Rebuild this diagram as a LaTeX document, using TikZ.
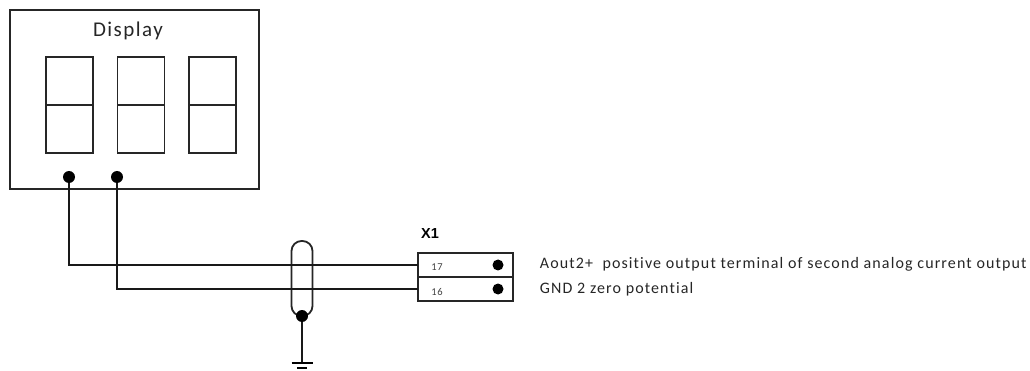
\documentclass[tikz,border=0pt]{standalone}
\usepackage{fontspec}
\setmainfont{Carlito}
\newfontfamily\labelfont[LetterSpace=7,RawFeature=-liga]{Carlito}
\newfontfamily\boldfont{Liberation Sans}
\usetikzlibrary{positioning}

\begin{document}
\begin{tikzpicture}[x=1pt, y=-1pt, node distance=24pt, on grid, line width=1.8pt]
      \tikzset{
        box/.style={draw=black!85, rectangle, inner sep=0pt, outer sep=0pt},
        digit/.style={box, minimum width=47pt, minimum height=48pt},
        terminal/.style={box, minimum width=95pt, minimum height=24pt},
        joint/.style={fill=black, circle, inner sep=0pt, outer sep=0pt, minimum size=11pt},
        wire/.style={line width=2.2pt, black!90},
        notetext/.style={font=\labelfont\fontsize{16}{18}\selectfont, anchor=west, inner sep=0pt, text=black!85},
        pinno/.style={font=\labelfont\fontsize{10.5}{12}\selectfont, inner sep=0pt, text=black!75}
      }
      \useasboundingbox (0,0) rectangle (1030,371);

      % Display
      \node[box, minimum width=249pt, minimum height=179pt] (display) at (134.5,99.5) {};
      \node[font=\labelfont\fontsize{21}{23}\selectfont, inner sep=0pt, text=black!85] (title) at (128,31) {Display};
      \node[digit]  (d1t) at (69.5,81) {};
      \node[digit]  (d1b) [below=48pt of d1t] {};
      \node[digit]  (d2t) [right=71.5pt of d1t] {};
      \node[digit]  (d2b) [below=48pt of d2t] {};
      \node[digit]  (d3t) [right=71.5pt of d2t] {};
      \node[digit]  (d3b) [below=48pt of d3t] {};
      \node[joint, minimum size=12pt]  (pa) at (69,177) {};
      \node[joint, minimum size=12pt]  (pb) at (117,177) {};

      % Terminals
      \node[terminal] (t17) at (465.5,265) {};
      \node[terminal] (t16) [below=of t17] {};
      \node[font=\boldfont\bfseries\fontsize{14.5}{16}\selectfont, inner sep=0pt] (x1) at (430,234) {X1};
      \node[pinno]  (n17) at (437,267.5) {17};
      \node[pinno]  (n16) at (437,291.5) {16};
      \node[joint]  (c17) at (498,265) {};
      \node[joint]  (c16) at (498,289) {};
      \node[notetext] (aout) at (539,264.5) {Aout2+\ \ positive output terminal of second analog current output};
      \node[notetext] (gnd2) at (539,289.5) {GND 2 zero potential};

      % Shield and earth
      \node[box, minimum width=21pt, minimum height=75pt, rounded corners=10pt] (shield) at (302,278.5) {};
      \node[joint, minimum size=12pt]  (sj) at (302,316) {};
      \coordinate (earth) at (302,363);
      \coordinate (eb1) at (291.5,363);
      \coordinate (eb2) at (312.5,363);
      \coordinate (eb3) at (297,368);
      \coordinate (eb4) at (307,368);

      % Wires
      \draw[wire] (pa) |- (t17.west);
      \draw[wire] (pb) |- (t16.west);
      \draw[wire] (sj) -- (earth);
      \draw (eb1) -- (eb2);
      \draw (eb3) -- (eb4);
    \end{tikzpicture}
\end{document}
